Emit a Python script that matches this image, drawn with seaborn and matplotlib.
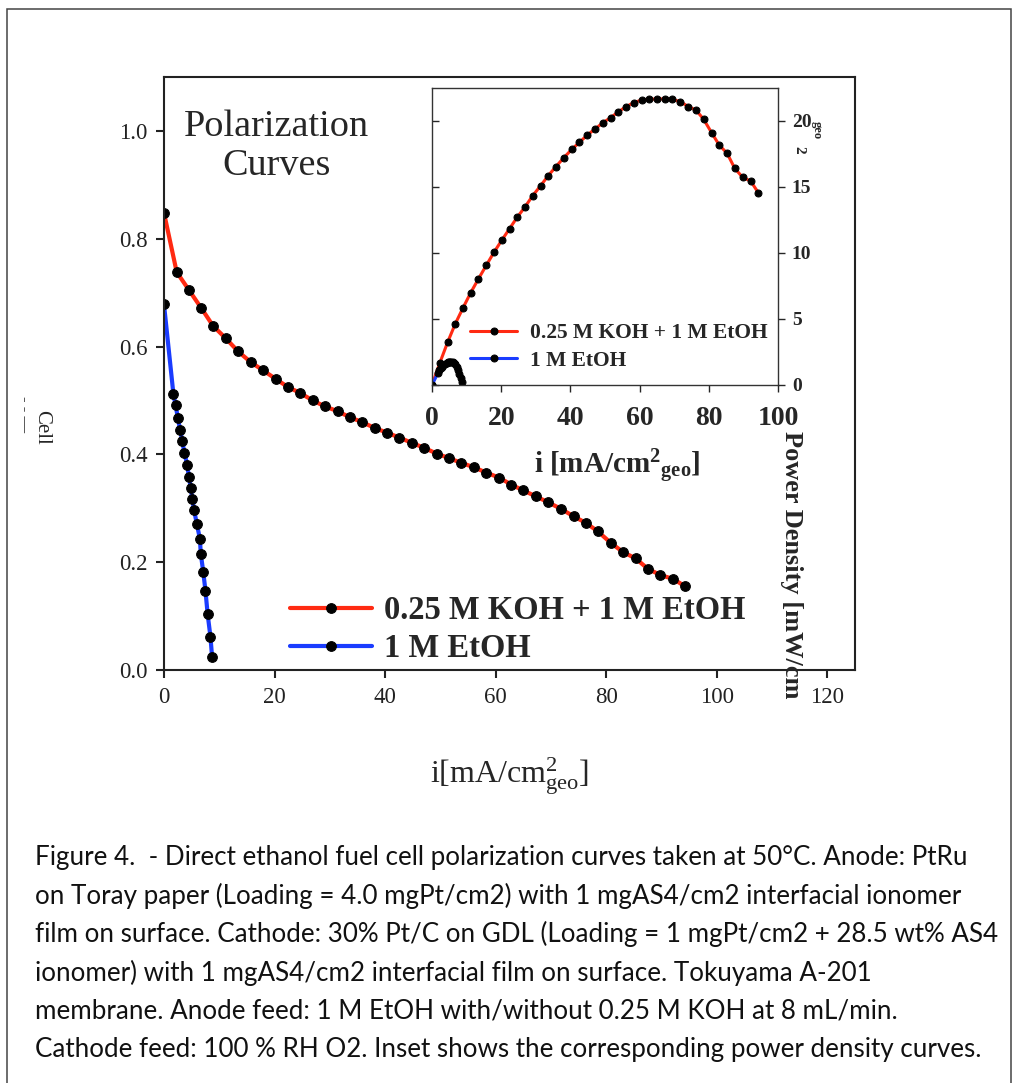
import numpy as np
import matplotlib
matplotlib.use("Agg")
import matplotlib.pyplot as plt
import matplotlib.patches as mpatches
import seaborn as sns

# Polarization data (main plot)
koh_current = [0, 2.3, 4.5, 6.7, 8.9, 11.2, 13.4, 15.7, 17.9, 20.2, 22.4, 24.6, 26.9, 29.1,
               31.4, 33.6, 35.8, 38.1, 40.4, 42.6, 44.9, 47.1, 49.4, 51.6, 53.8, 56.1, 58.3,
               60.6, 62.8, 65.0, 67.3, 69.5, 71.8, 74.1, 76.3, 78.5, 80.8, 83.0, 85.3, 87.5,
               89.8, 92.1, 94.3]
koh_voltage = [0.848, 0.738, 0.705, 0.672, 0.638, 0.615, 0.591, 0.571, 0.556, 0.540, 0.525,
               0.514, 0.500, 0.489, 0.480, 0.469, 0.460, 0.449, 0.440, 0.431, 0.421, 0.412,
               0.401, 0.393, 0.384, 0.376, 0.366, 0.357, 0.344, 0.333, 0.322, 0.311, 0.299,
               0.285, 0.273, 0.257, 0.236, 0.219, 0.207, 0.188, 0.176, 0.169, 0.155]
etoh_current = [0, 1.7, 2.1, 2.5, 2.9, 3.3, 3.7, 4.2, 4.5, 4.85, 5.1, 5.45, 5.96, 6.5, 6.65,
                7.1, 7.5, 7.9, 8.4, 8.7]
etoh_voltage = [0.678, 0.512, 0.491, 0.468, 0.446, 0.425, 0.402, 0.381, 0.358, 0.338, 0.318,
                0.296, 0.270, 0.243, 0.216, 0.182, 0.147, 0.103, 0.062, 0.024]

# Power density data (inset)
koh_power = [0, 1.70, 3.23, 4.62, 5.81, 7.0, 8.03, 9.07, 10.05, 10.98, 11.84, 12.70, 13.5,
             14.34, 15.10, 15.86, 16.54, 17.22, 17.85, 18.38, 18.94, 19.39, 19.87, 20.25,
             20.68, 21.09, 21.39, 21.59, 21.64, 21.67, 21.67, 21.64, 21.46, 21.09, 20.83,
             20.13, 19.12, 18.18, 17.55, 16.41, 15.73, 15.45, 14.57]
etoh_power = [0, 0.9, 1.1, 1.25, 1.4, 1.5, 1.6, 1.68, 1.72, 1.74, 1.74, 1.73, 1.72, 1.7,
              1.62, 1.4, 1.15, 0.85, 0.55, 0.25]

labels = ["0.25 M KOH + 1 M EtOH", "1 M EtOH"]
red = "#ff2a12"
blue = "#1a3cff"

sns.set_style("ticks")
plt.rcParams["font.family"] = ["Liberation Serif", "DejaVu Serif"]
plt.rcParams["mathtext.fontset"] = "custom"
plt.rcParams["mathtext.rm"] = "Liberation Serif"
plt.rcParams["mathtext.it"] = "Liberation Serif:italic"
plt.rcParams["mathtext.bf"] = "Liberation Serif:bold"

W, H = 1018, 1083
fig = plt.figure(figsize=(W / 100, H / 100), dpi=100)

# outer frame
fig.patches.append(mpatches.Rectangle((7 / W, -0.01), (1011 - 7) / W, 1 - 9 / H + 0.01,
                                      transform=fig.transFigure, fill=False,
                                      edgecolor="#444444", linewidth=1.1))

# ---- main axes ----
ax = fig.add_axes([164 / W, 1 - 670 / H, (855 - 164) / W, (670 - 77) / H])
sns.lineplot(x=koh_current, y=koh_voltage, ax=ax, color=red, linewidth=3, marker="o",
             markersize=7, markerfacecolor="black", markeredgecolor="black",
             sort=False, label=labels[0])
sns.lineplot(x=etoh_current, y=etoh_voltage, ax=ax, color=blue, linewidth=3, marker="o",
             markersize=7, markerfacecolor="black", markeredgecolor="black",
             sort=False, label=labels[1])
ax.set_xlim(0, 125)
ax.set_ylim(0, 1.1)
ax.set_xticks(np.arange(0, 121, 20))
ax.set_yticks(np.arange(0, 1.01, 0.2))
ax.set_yticklabels([f"{v:.1f}" for v in np.arange(0, 1.01, 0.2)])
ax.tick_params(direction="out", length=6, width=1.5, labelsize=16.5, pad=6, colors="#222222")
for s in ax.spines.values():
    s.set_linewidth(1.5)
    s.set_color("#222222")
ax.set_xlabel(r"i[mA/cm$^{2}_{\mathrm{geo}}$]", fontsize=23, labelpad=34)
ax.set_ylabel("")
ax.text(0.1635, 0.946, "Polarization\nCurves", transform=ax.transAxes, ha="center",
        va="top", fontsize=27.5, linespacing=1.17)
leg = ax.legend(loc="upper left", bbox_to_anchor=(290 / W, 1 - 595 / H),
                bbox_transform=fig.transFigure, frameon=False, borderpad=0,
                borderaxespad=0, handlelength=2.5, handletextpad=0.38, labelspacing=0.22,
                prop={"weight": "bold", "size": 23.5}, numpoints=1)

# clipped y label on the left
fig.text(42 / W, 1 - 427 / H, "Cell", rotation=270, ha="center", va="center", fontsize=15)
fig.text(24 / W, 1 - 414 / H, "- - \u2014", rotation=270, ha="center", va="center", fontsize=12)

# ---- inset ----
ax_in = fig.add_axes([432 / W, 1 - 385 / H, (778 - 432) / W, (385 - 88) / H])
ax_in.patch.set_alpha(0)
sns.lineplot(x=koh_current, y=koh_power, ax=ax_in, color=red, linewidth=2.2, marker="o",
             markersize=5, markerfacecolor="black", markeredgecolor="black",
             sort=False, label=labels[0])
sns.lineplot(x=etoh_current, y=etoh_power, ax=ax_in, color=blue, linewidth=2.2, marker="o",
             markersize=5, markerfacecolor="black", markeredgecolor="black",
             sort=False, label=labels[1])
ax_in.set_xlim(0, 100)
ax_in.set_ylim(0, 22.5)
ax_in.set_xticks(np.arange(0, 101, 20))
ax_in.set_yticks(np.arange(0, 21, 5))
ax_in.tick_params(axis="x", direction="out", length=5, width=1, labelsize=20, pad=10)
ax_in.tick_params(axis="y", direction="in", length=5, width=1, labelleft=False)
for lab in ax_in.get_xticklabels():
    lab.set_fontweight("bold")
for s in ax_in.spines.values():
    s.set_linewidth(1)
    s.set_color("#333333")
ax_in.set_xlabel(r"$\mathbf{i\ [mA/cm^{2}{}_{geo}]}$", fontsize=21, labelpad=12)
ax_in.xaxis.set_label_coords(0.535, -0.21)
ax_in.set_ylabel("")
ax_in.legend(loc="upper left", bbox_to_anchor=(470 / W, 1 - 323 / H),
             bbox_transform=fig.transFigure, frameon=False, borderpad=0, borderaxespad=0,
             handlelength=2.2, handletextpad=0.6, labelspacing=0.35,
             prop={"weight": "bold", "size": 15.5}, numpoints=1)

ax_r = ax_in.twinx()
ax_r.set_ylim(0, 22.5)
ax_r.set_yticks(np.arange(0, 21, 5))
ax_r.tick_params(axis="y", direction="out", length=5, width=1, labelsize=14, pad=5)
for lab in ax_r.get_yticklabels():
    lab.set_fontweight("bold")
for s in ax_r.spines.values():
    s.set_visible(False)

# power density label (runs off the inset, as in the figure)
fig.text(792 / W, 1 - 431 / H, "Power Density [mW/cm", rotation=270, ha="center", va="top",
         fontsize=19, fontweight="bold")
fig.text(799 / W, 1 - 150 / H, "2", rotation=270, ha="center", va="center",
         fontsize=11, fontweight="bold")
fig.text(817 / W, 1 - 130 / H, "geo", rotation=270, ha="center", va="center",
         fontsize=9, fontweight="bold")

# caption
caption = [
    "Figure 4.  - Direct ethanol fuel cell polarization curves taken at 50\u00b0C. Anode: PtRu",
    "on Toray paper (Loading = 4.0 mgPt/cm2) with 1 mgAS4/cm2 interfacial ionomer",
    "film on surface. Cathode: 30% Pt/C on GDL (Loading = 1 mgPt/cm2 + 28.5 wt% AS4",
    "ionomer) with 1 mgAS4/cm2 interfacial film on surface. Tokuyama A-201",
    "membrane. Anode feed: 1 M EtOH with/without 0.25 M KOH at 8 mL/min.",
    "Cathode feed: 100 % RH O2. Inset shows the corresponding power density curves.",
]
for k, line in enumerate(caption):
    fig.text(35 / W, 1 - (858 + 38.2 * k) / H, line, ha="left", va="center",
             fontsize=18.7, family=["Lato", "DejaVu Sans"], color="#111111")

fig.savefig("out.png", dpi=100)
